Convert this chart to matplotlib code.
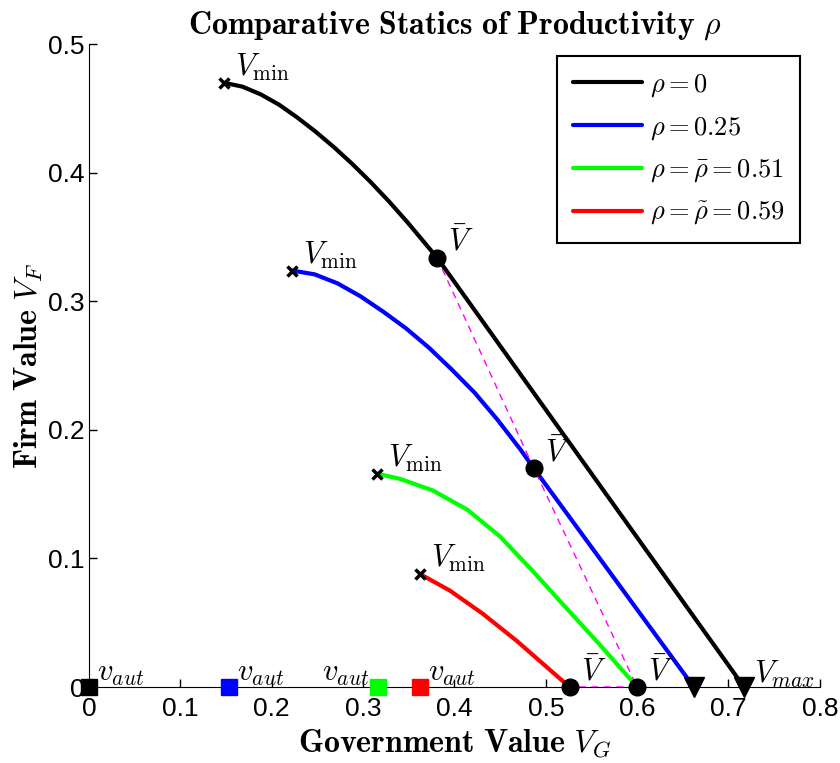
import numpy as np
import matplotlib
matplotlib.use("Agg")
import matplotlib.pyplot as plt

plt.rcParams['mathtext.fontset'] = 'cm'
plt.rcParams['font.family'] = ['Liberation Sans', 'DejaVu Sans']

# frontier points (V_G, V_F) for each productivity level, from V_min down to the axis
vg_r0 = [0.148, 0.168, 0.188, 0.208, 0.228, 0.248, 0.268, 0.288, 0.308, 0.328,
         0.348, 0.368, 0.381, 0.717]
vf_r0 = [0.470, 0.467, 0.461, 0.453, 0.443, 0.432, 0.420, 0.407, 0.393, 0.378,
         0.362, 0.345, 0.334, 0.0]
vg_r25 = [0.222, 0.247, 0.272, 0.297, 0.322, 0.347, 0.372, 0.397, 0.422, 0.447,
          0.472, 0.487, 0.662]
vf_r25 = [0.324, 0.321, 0.314, 0.304, 0.292, 0.279, 0.264, 0.247, 0.229, 0.208,
          0.185, 0.170, 0.0]
vg_r51 = [0.315, 0.340, 0.376, 0.414, 0.450, 0.486, 0.523, 0.559, 0.600]
vf_r51 = [0.166, 0.162, 0.153, 0.138, 0.117, 0.090, 0.061, 0.033, 0.0]
vg_r59 = [0.362, 0.395, 0.431, 0.468, 0.497, 0.526]
vf_r59 = [0.088, 0.075, 0.057, 0.036, 0.018, 0.0]

labels = [r'$\rho = 0$', r'$\rho = 0.25$', r'$\rho = \bar{\rho} = 0.51$',
          r'$\rho = \tilde{\rho} = 0.59$']
colors = ['k', 'b', '#00ff00', 'r']

# V_bar points (where the frontier meets the dashed locus)
vbar_g = [0.381, 0.487, 0.600, 0.526]
vbar_f = [0.334, 0.170, 0.0, 0.0]
# autarky values
v_aut = [0.0, 0.153, 0.316, 0.362]
# V_max for the two lower productivity levels
vmax_g = [0.717, 0.662]

curves = [(vg_r0, vf_r0), (vg_r25, vf_r25), (vg_r51, vf_r51), (vg_r59, vf_r59)]

fig = plt.figure(figsize=(8.4, 7.63), dpi=100)
ax = fig.add_axes([0.106, 0.0996, 0.87, 0.8424])

for (g, f), c, lab in zip(curves, colors, labels):
    ax.plot(g, f, color=c, lw=3, label=lab, zorder=3,
            solid_joinstyle='round', solid_capstyle='round')

ax.plot(vbar_g, vbar_f, '--', color='magenta', lw=1, dashes=(5, 4), zorder=4)

fs_ann = 22
for (g, f) in curves:
    ax.plot(g[0], f[0], 'x', color='k', ms=7, mew=2.5, zorder=5)
    ax.text(g[0] + 0.012, f[0], r'$V_{\min}$', fontsize=fs_ann, va='bottom', ha='left')

ax.plot(vbar_g, vbar_f, 'o', color='k', ms=12, zorder=6, clip_on=False)
for g, f in zip(vbar_g, vbar_f):
    ax.text(g + 0.012, f, r'$\bar{V}$', fontsize=fs_ann, va='bottom', ha='left')

ax.plot(vmax_g, [0, 0], 'v', color='k', ms=14, zorder=6, clip_on=False)
ax.text(vmax_g[0] + 0.011, -0.002, r'$V_{max}$', fontsize=fs_ann, va='bottom', ha='left')

for v, c in zip(v_aut, colors):
    ax.plot(v, 0, 's', color=c, ms=11.5, zorder=7, clip_on=False)
for i, v in enumerate(v_aut):
    if i == 2:
        ax.text(v - 0.009, -0.001, r'$v_{aut}$', fontsize=fs_ann, va='bottom', ha='right')
    else:
        ax.text(v + 0.009, -0.001, r'$v_{aut}$', fontsize=fs_ann, va='bottom', ha='left')

ax.set_xlim(0, 0.8)
ax.set_ylim(0, 0.5)
ax.set_xticks(np.arange(0, 0.81, 0.1))
ax.set_yticks(np.arange(0, 0.51, 0.1))
ax.set_xticklabels(['0', '0.1', '0.2', '0.3', '0.4', '0.5', '0.6', '0.7', '0.8'])
ax.set_yticklabels(['0', '0.1', '0.2', '0.3', '0.4', '0.5'])
ax.tick_params(direction='in', length=6, width=1, labelsize=19)
ax.tick_params(axis='x', pad=7)
ax.tick_params(axis='y', pad=3)
ax.spines['top'].set_visible(False)
ax.spines['right'].set_visible(False)

ax.set_title(r'$\mathbf{Comparative\ Statics\ of\ Productivity}\ \rho$', fontsize=23, pad=8)
ax.set_xlabel(r'$\mathbf{Government\ Value}\ V_G$', fontsize=23, labelpad=5)
ax.set_ylabel(r'$\mathbf{Firm\ Value}\ V_F$', fontsize=23, labelpad=2)

leg = ax.legend(loc='upper right', bbox_to_anchor=(0.973, 0.981), fontsize=19,
                handlelength=2.6, handletextpad=0.3, labelspacing=0.6, borderpad=0.6,
                borderaxespad=0, fancybox=False, framealpha=1, edgecolor='k')
leg.get_frame().set_linewidth(1.5)

fig.savefig('out.png', dpi=100)
